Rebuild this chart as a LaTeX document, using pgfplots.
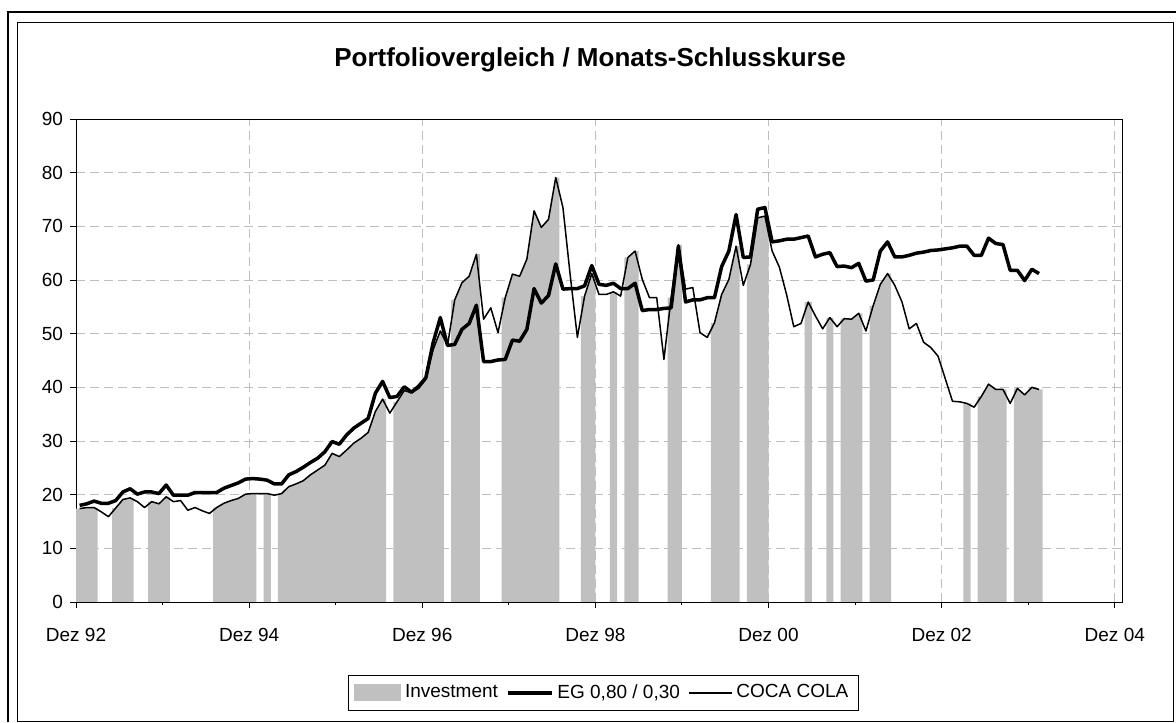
\documentclass[border=0pt]{standalone}
\usepackage{fontspec}
\setmainfont{Liberation Sans}
\usepackage{pgfplots}
\usepackage{pgfplotstable}
\pgfplotsset{compat=1.18}
\definecolor{investgray}{HTML}{C0C0C0}
\definecolor{gridgray}{HTML}{BEBEBE}

\pgfplotstableread{
m cc eg
0.5 17.4 18.0
1.5 17.6 18.3
2.5 17.6 18.8
3.5 16.8 18.4
4.5 15.9 18.4
5.5 17.5 18.9
6.5 19.1 20.5
7.5 19.4 21.1
8.5 18.7 20.1
9.5 17.6 20.5
10.5 18.7 20.5
11.5 18.3 20.2
12.5 19.6 21.8
13.5 18.7 19.9
14.5 18.9 19.9
15.5 17.1 19.9
16.5 17.6 20.4
17.5 17.0 20.4
18.5 16.5 20.4
19.5 17.6 20.4
20.5 18.4 21.2
21.5 18.9 21.7
22.5 19.3 22.2
23.5 20.1 22.9
24.5 20.2 23.0
25.5 20.2 22.9
26.5 20.2 22.7
27.5 19.9 22.0
28.5 20.2 22.0
29.5 21.5 23.7
30.5 22.0 24.3
31.5 22.6 25.1
32.5 23.7 26.0
33.5 24.6 26.8
34.5 25.5 28.0
35.5 27.7 29.9
36.5 27.1 29.4
37.5 28.3 31.1
38.5 29.6 32.4
39.5 30.5 33.3
40.5 31.6 34.2
41.5 35.5 38.9
42.5 37.8 41.1
43.5 35.2 38.1
44.5 37.3 38.3
45.5 39.4 40.1
46.5 39.0 39.1
47.5 39.8 40.2
48.5 41.5 41.8
49.5 47.0 48.3
50.5 50.5 53.0
51.5 47.8 47.8
52.5 56.3 48.0
53.5 59.5 50.8
54.5 60.7 51.9
55.5 64.8 55.3
56.5 52.7 44.8
57.5 54.8 44.8
58.5 50.2 45.1
59.5 56.7 45.2
60.5 61.1 48.8
61.5 60.7 48.6
62.5 63.9 50.8
63.5 72.9 58.4
64.5 69.8 55.7
65.5 71.3 57.1
66.5 79.1 63.0
67.5 73.5 58.3
68.5 61.0 58.4
69.5 49.3 58.4
70.5 57.0 58.9
71.5 61.2 62.7
72.5 57.3 59.2
73.5 57.3 59.0
74.5 57.8 59.4
75.5 57.0 58.4
76.5 64.2 58.4
77.5 65.4 59.4
78.5 60.1 54.3
79.5 56.7 54.5
80.5 56.7 54.5
81.5 45.2 54.7
82.5 56.7 54.8
83.5 66.6 66.3
84.5 58.3 55.9
85.5 58.6 56.3
86.5 50.2 56.3
87.5 49.3 56.7
88.5 52.0 56.7
89.5 57.3 62.5
90.5 60.1 65.4
91.5 66.3 72.2
92.5 59.0 64.2
93.5 62.9 64.3
94.5 71.6 73.2
95.5 71.9 73.5
96.5 65.4 67.1
97.5 62.4 67.3
98.5 57.3 67.6
99.5 51.3 67.6
100.5 51.9 67.9
101.5 55.9 68.2
102.5 53.3 64.3
103.5 50.9 64.8
104.5 53.0 65.1
105.5 51.3 62.5
106.5 52.8 62.6
107.5 52.7 62.3
108.5 53.8 63.1
109.5 50.5 59.8
110.5 55.2 60.0
111.5 59.2 65.4
112.5 61.2 67.1
113.5 59.0 64.3
114.5 55.9 64.3
115.5 50.9 64.6
116.5 51.9 65.0
117.5 48.4 65.2
118.5 47.4 65.5
119.5 45.8 65.6
120.5 41.6 65.8
121.5 37.4 66.0
122.5 37.3 66.3
123.5 37.0 66.3
124.5 36.3 64.6
125.5 38.3 64.6
126.5 40.6 67.8
127.5 39.6 66.8
128.5 39.6 66.6
129.5 37.0 61.8
130.5 39.8 61.8
131.5 38.6 59.9
132.5 40.0 62.0
133.5 39.6 61.2
}\datatable

\begin{document}
\begin{tikzpicture}[x=1pt,y=1pt]
\useasboundingbox (0,0) rectangle (588,361);
\draw[line width=0.5pt] (8.5,0.5) rectangle (586.5,349.5);
\draw[line width=1.25pt] (4,0) -- (4,355) -- (588,355);
\node[font=\bfseries\fontsize{13}{15}\selectfont] at (295,331) {Portfoliovergleich / Monats-Schlusskurse};
\begin{axis}[
  at={(38pt,60pt)}, anchor=south west,
  width=523pt, height=241.5pt, scale only axis,
  xmin=0, xmax=145, ymin=0, ymax=90,
  xtick={0,24,...,144},
  xticklabels={Dez 92,Dez 94,Dez 96,Dez 98,Dez 00,Dez 02,Dez 04},
  minor xtick={12,36,...,132},
  ytick={0,10,...,90},
  tick pos=left, tick align=outside,
  major tick length=3pt, minor tick length=1.5pt,
  tick style={black, line width=0.5pt},
  axis line style={line width=0.5pt},
  xmajorgrids, ymajorgrids,
  major grid style={gridgray, dash pattern=on 4.5pt off 2.5pt, line width=0.5pt},
  tick label style={font=\fontsize{9.5}{11}\selectfont},
  xticklabel style={yshift=-6.5pt},
  /pgf/number format/assume math mode=true,
  legend style={at={(0.504,-0.188)}, anchor=center, legend columns=-1,
    draw=black, line width=0.5pt, fill=white, font=\fontsize{9.5}{11}\selectfont,
    inner xsep=3pt, inner ysep=2.5pt,
    /tikz/every even column/.append style={column sep=2pt}},
  legend cell align=left,
]
\addlegendimage{legend image code/.code={\fill[investgray] (0pt,-4pt) rectangle (23pt,4pt);}}
\addlegendentry{Investment}
\addlegendimage{legend image code/.code={\draw[black,line width=1.75pt] (0pt,0pt) -- (22pt,0pt);}}
\addlegendentry{EG 0,80 / 0,30}
\addlegendimage{legend image code/.code={\draw[black,line width=0.75pt] (0pt,0pt) -- (21.5pt,0pt);}}
\addlegendentry{COCA COLA}

% Investment periods (value = COCA COLA price while invested)
\pgfplotsset{inv/.style={fill=investgray, draw=none, forget plot}}
\addplot[inv] coordinates {(0,17.4) (0.5,17.4) (1.5,17.6) (2.5,17.6) (3,17.6)} \closedcycle;
\addplot[inv] coordinates {(5,17.5) (5.5,17.5) (6.5,19.1) (7.5,19.4) (8,19.4)} \closedcycle;
\addplot[inv] coordinates {(10,18.7) (10.5,18.7) (11.5,18.3) (12.5,19.6) (13,19.6)} \closedcycle;
\addplot[inv] coordinates {(19,17.6) (19.5,17.6) (20.5,18.4) (21.5,18.9) (22.5,19.3) (23.5,20.1) (24.5,20.2) (25,20.2)} \closedcycle;
\addplot[inv] coordinates {(26,20.2) (26.5,20.2) (27,20.2)} \closedcycle;
\addplot[inv] coordinates {(28,20.2) (28.5,20.2) (29.5,21.5) (30.5,22.0) (31.5,22.6) (32.5,23.7) (33.5,24.6) (34.5,25.5) (35.5,27.7) (36.5,27.1) (37.5,28.3) (38.5,29.6) (39.5,30.5) (40.5,31.6) (41.5,35.5) (42.5,37.8) (43,37.8)} \closedcycle;
\addplot[inv] coordinates {(44,37.3) (44.5,37.3) (45.5,39.4) (46.5,39.0) (47.5,39.8) (48.5,41.5) (49.5,47.0) (50.5,50.5) (51,50.5)} \closedcycle;
\addplot[inv] coordinates {(52,56.3) (52.5,56.3) (53.5,59.5) (54.5,60.7) (55.5,64.8) (56,64.8)} \closedcycle;
\addplot[inv] coordinates {(59,56.7) (59.5,56.7) (60.5,61.1) (61.5,60.7) (62.5,63.9) (63.5,72.9) (64.5,69.8) (65.5,71.3) (66.5,79.1) (67,79.1)} \closedcycle;
\addplot[inv] coordinates {(70,57.0) (70.5,57.0) (71.5,61.2) (72,61.2)} \closedcycle;
\addplot[inv] coordinates {(74,57.8) (74.5,57.8) (75,57.8)} \closedcycle;
\addplot[inv] coordinates {(76,64.2) (76.5,64.2) (77.5,65.4) (78,65.4)} \closedcycle;
\addplot[inv] coordinates {(82,56.7) (82.5,56.7) (83.5,66.6) (84,66.6)} \closedcycle;
\addplot[inv] coordinates {(88,52.0) (88.5,52.0) (89.5,57.3) (90.5,60.1) (91.5,66.3) (92,66.3)} \closedcycle;
\addplot[inv] coordinates {(93,62.9) (93.5,62.9) (94.5,71.6) (95.5,71.9) (96,71.9)} \closedcycle;
\addplot[inv] coordinates {(101,55.9) (101.5,55.9) (102,55.9)} \closedcycle;
\addplot[inv] coordinates {(104,53.0) (104.5,53.0) (105,53.0)} \closedcycle;
\addplot[inv] coordinates {(106,52.8) (106.5,52.8) (107.5,52.7) (108.5,53.8) (109,53.8)} \closedcycle;
\addplot[inv] coordinates {(110,55.2) (110.5,55.2) (111.5,59.2) (112.5,61.2) (113,61.2)} \closedcycle;
\addplot[inv] coordinates {(123,37.0) (123.5,37.0) (124,37.0)} \closedcycle;
\addplot[inv] coordinates {(125,38.3) (125.5,38.3) (126.5,40.6) (127.5,39.6) (128.5,39.6) (129,39.6)} \closedcycle;
\addplot[inv] coordinates {(130,39.8) (130.5,39.8) (131.5,38.6) (132.5,40.0) (133.5,39.6) (134,39.6)} \closedcycle;

\addplot[black, line width=0.75pt, line join=round, forget plot] table[x=m,y=cc] {\datatable};
\addplot[black, line width=1.75pt, line join=round, forget plot] table[x=m,y=eg] {\datatable};
\draw[black, line width=0.5pt] (rel axis cs:0,0) -- (rel axis cs:1,0);
\end{axis}
\end{tikzpicture}
\end{document}
